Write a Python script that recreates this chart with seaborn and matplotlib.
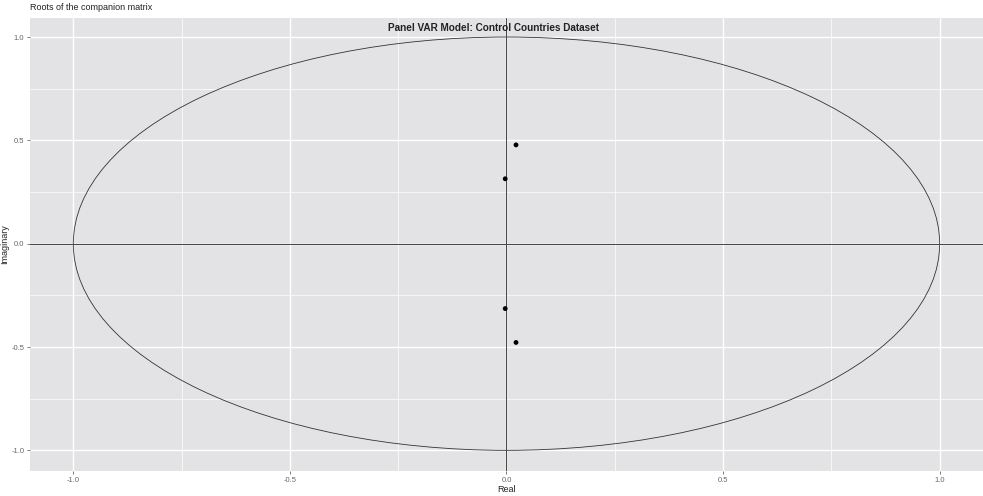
import matplotlib
matplotlib.use("Agg")
import matplotlib.pyplot as plt
import matplotlib.patches as mpatches
import seaborn as sns
import pandas as pd

# roots of the companion matrix
real_part = [0.022, -0.003, -0.003, 0.022]
imag_part = [0.478, 0.314, -0.314, -0.478]
x_ticks = [-1.0, -0.5, 0.0, 0.5, 1.0]
y_ticks = [-1.0, -0.5, 0.0, 0.5, 1.0]

roots = pd.DataFrame({"Real": real_part, "Imaginary": imag_part})

sns.set_theme(style="darkgrid", rc={
    "axes.facecolor": "#e3e3e6",
    "grid.color": "white",
    "axes.edgecolor": "none",
})
plt.rcParams["font.family"] = ["Liberation Sans", "DejaVu Sans"]

fig = plt.figure(figsize=(9.83, 4.96), dpi=100)
ax = fig.add_axes([0.0305, 0.0504, 0.9695, 0.9133])

# minor grid
for v in [-0.75, -0.25, 0.25, 0.75]:
    ax.axvline(v, color="white", lw=0.5, zorder=0.5)
    ax.axhline(v, color="white", lw=0.5, zorder=0.5)

ax.add_patch(mpatches.Circle((0, 0), 1.0, fill=False, ec="#333333", lw=0.6, zorder=2))
ax.axhline(0, color="#444444", lw=0.7, zorder=2)
ax.axvline(0, color="#444444", lw=0.7, zorder=2)

sns.scatterplot(data=roots, x="Real", y="Imaginary", ax=ax, color="black",
                s=12, edgecolor="none", zorder=3)

ax.set_xlim(-1.1, 1.1)
ax.set_ylim(-1.1, 1.092)
ax.set_xticks(x_ticks)
ax.set_yticks(y_ticks)
ax.set_xticklabels([f"{t:.1f}" for t in x_ticks])
ax.set_yticklabels([f"{t:.1f}" for t in y_ticks])
ax.grid(True, which="major", color="white", lw=1.0, zorder=0.6)
ax.set_axisbelow(True)
ax.tick_params(axis="both", labelsize=5.5, colors="#666666", length=2.5, width=0.6,
               direction="out", pad=1.5, bottom=True, left=True)
ax.set_xlabel("Real", fontsize=6.5, color="#222222", labelpad=1)
ax.set_ylabel("Imaginary", fontsize=6.5, color="#222222")
ax.yaxis.set_label_coords(-0.022, 0.5)

ax.text(-0.03, 1.045, "Panel VAR Model: Control Countries Dataset", ha="center",
        va="center", fontsize=7.2, fontweight="bold", color="#222222", zorder=4)
fig.text(0.0305, 0.985, "Roots of the companion matrix", ha="left", va="center",
         fontsize=6.5, color="#222222")

fig.savefig("out.png", dpi=100)
